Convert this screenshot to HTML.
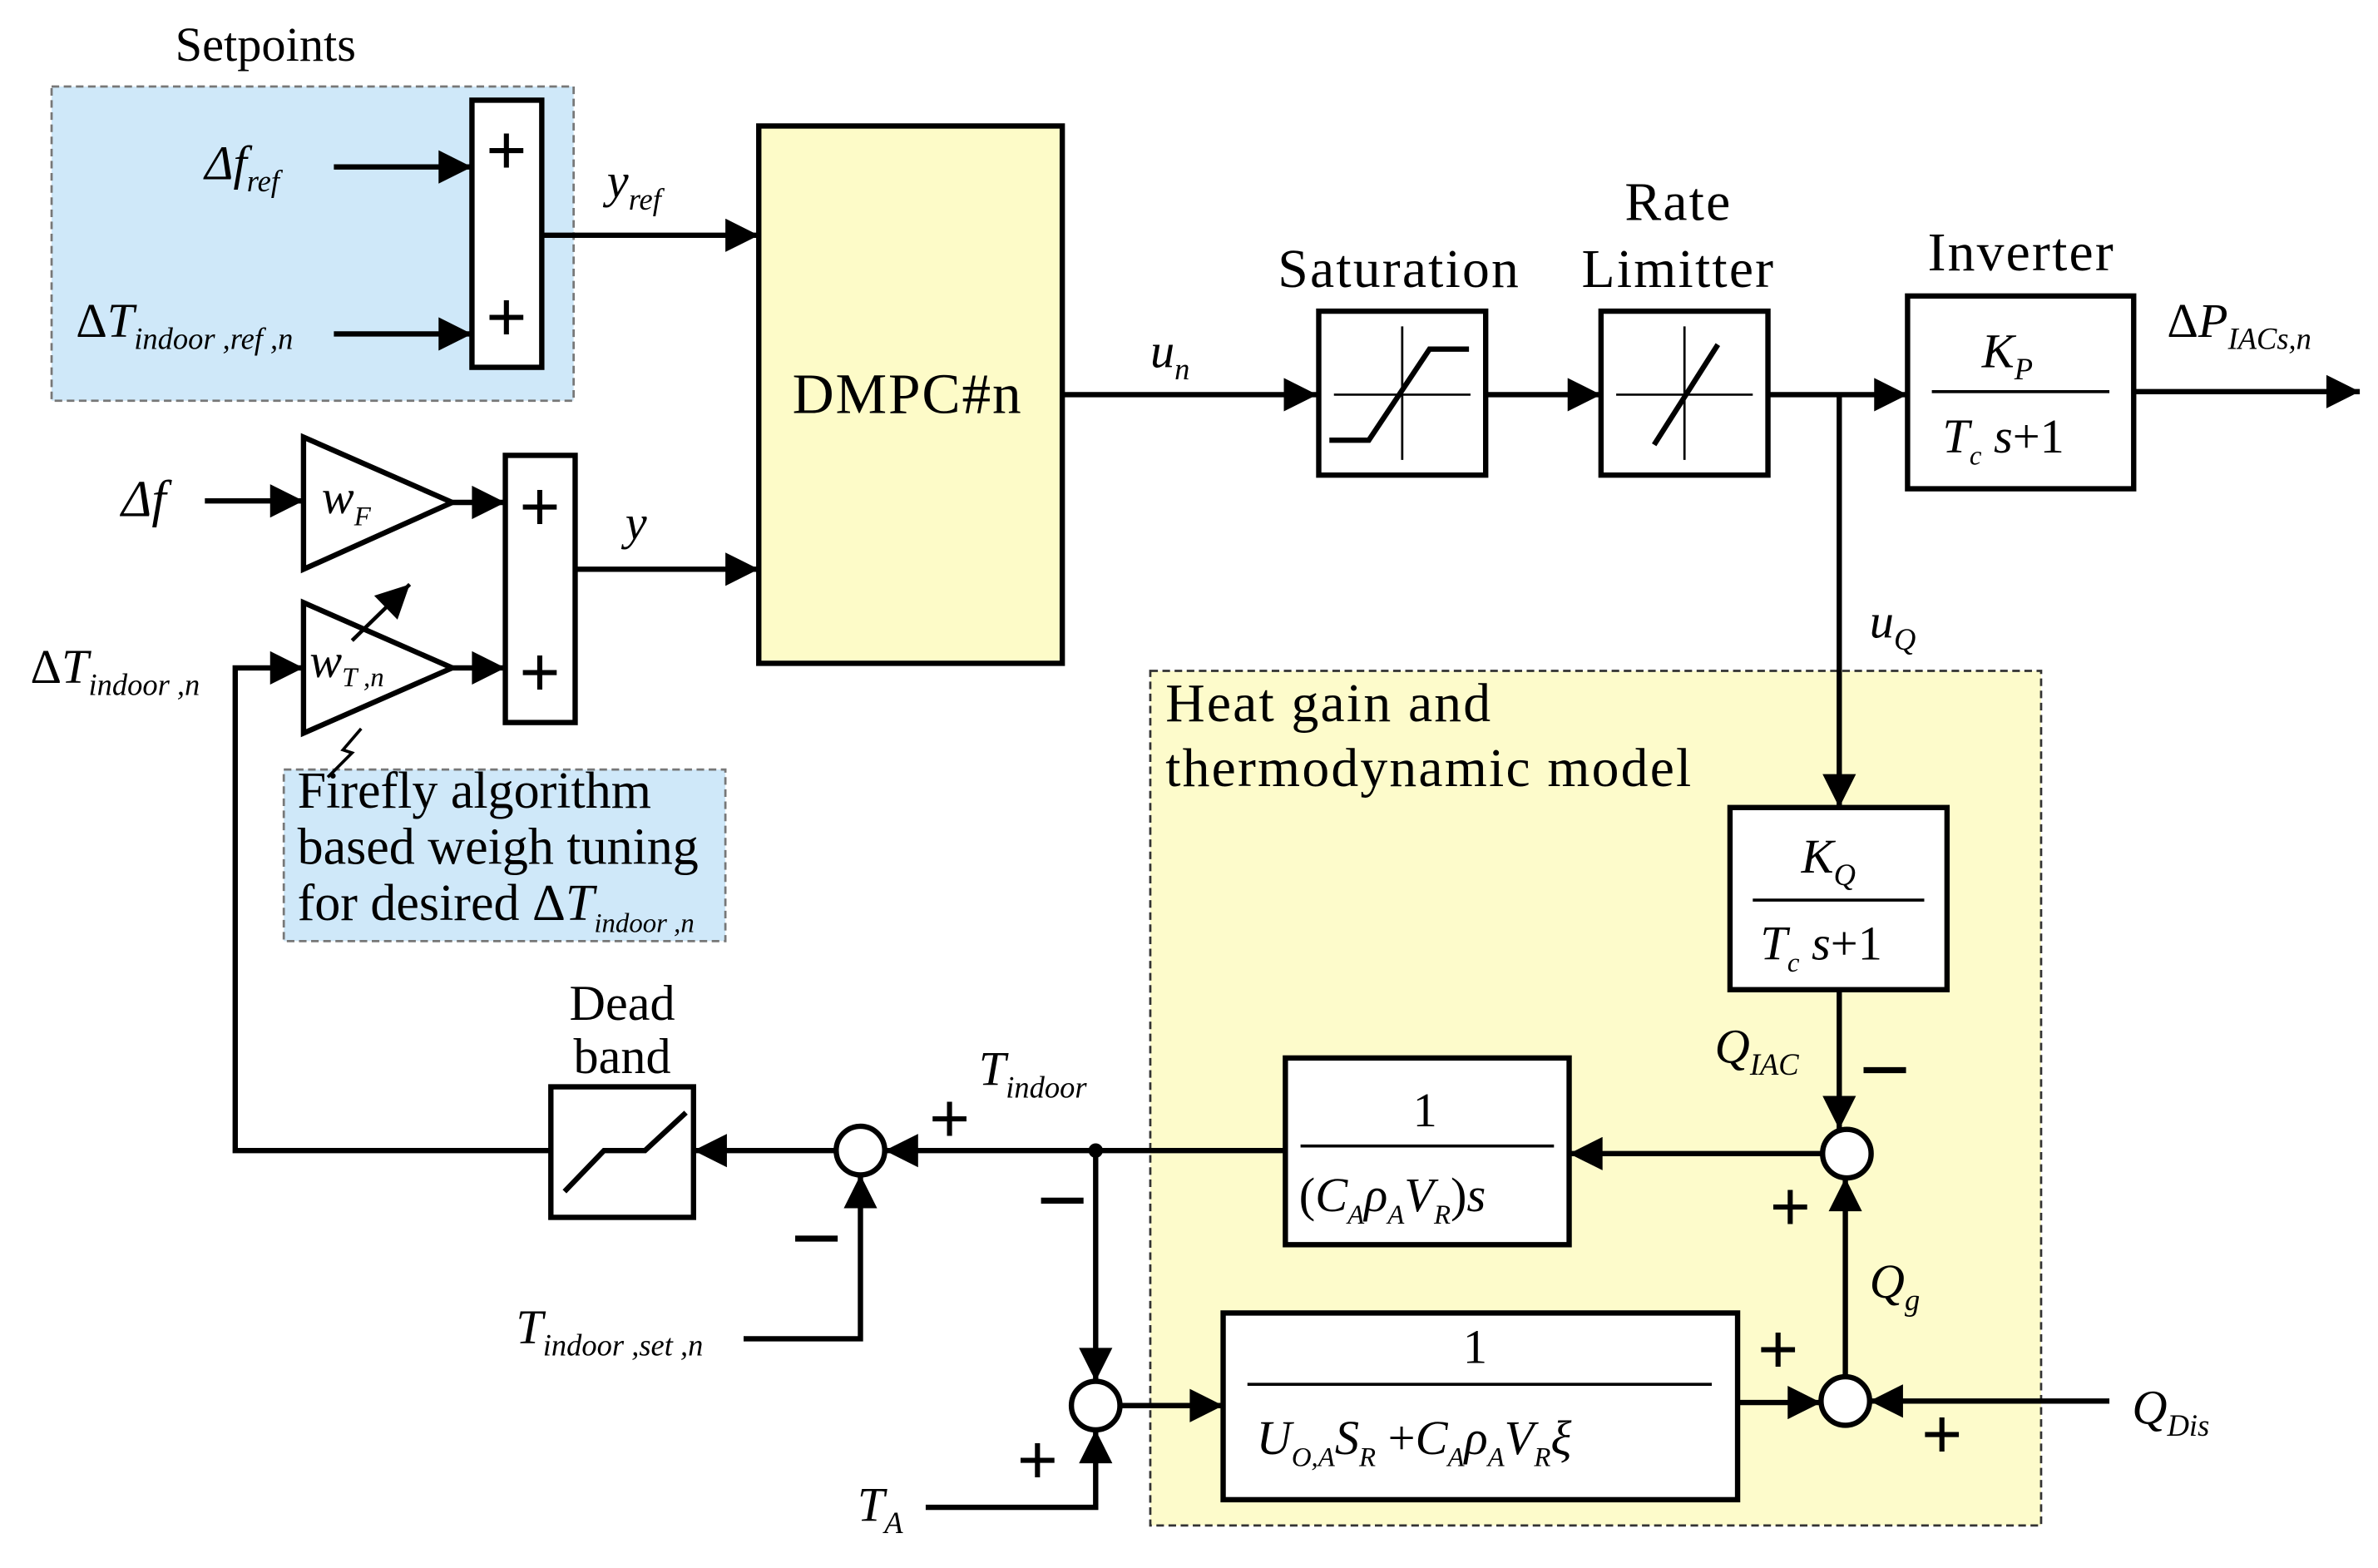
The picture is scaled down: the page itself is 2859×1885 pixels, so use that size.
<!DOCTYPE html>
<html><head><meta charset="utf-8"><style>
html,body{margin:0;padding:0;background:#fff;}
svg{display:block;}
text{font-family:"Liberation Serif",serif;fill:#000;}
.i{font-style:italic;}
.L{font-size:36px;letter-spacing:1.2px;}
</style></head><body>
<svg width="2859" height="1885" viewBox="0 0 1567 1033" preserveAspectRatio="none" xmlns="http://www.w3.org/2000/svg">
<defs>
<marker id="A" viewBox="0 0 10 10" markerWidth="26" markerHeight="22" refX="10" refY="5" orient="auto" markerUnits="userSpaceOnUse">
<path d="M0,0 L10,5 L0,10 z" fill="#000"/></marker>
</defs>
<g stroke="#000" stroke-width="3.5" fill="none">
<rect x="34" y="57" width="344" height="207" fill="#cfe8f9" stroke="#777" stroke-width="1.5" stroke-dasharray="5,3"/>
<rect x="187" y="507" width="291" height="113" fill="#cfe8f9" stroke="#777" stroke-width="1.5" stroke-dasharray="5,3"/>
<rect x="758" y="442" width="587" height="563" fill="#fdfbcb" stroke="#333" stroke-width="1.5" stroke-dasharray="5,3"/>
<rect x="311" y="66" width="46" height="176" fill="#fff"/>
<rect x="333" y="300" width="46" height="176" fill="#fff"/>
<rect x="500" y="83" width="200" height="354" fill="#fdfbc8"/>
<path d="M220,110 H311" marker-end="url(#A)"/>
<path d="M220,220 H311" marker-end="url(#A)"/>
<path d="M357,155 H500" marker-end="url(#A)"/>
<path d="M135,330 H200" marker-end="url(#A)"/>
<polygon points="200,288 200,375 298,331" fill="#fff"/>
<path d="M298,331 H333" marker-end="url(#A)"/>
<polygon points="200,397 200,483 298,440" fill="#fff"/>
<path d="M298,440 H333" marker-end="url(#A)"/>
<path d="M379,375 H500" marker-end="url(#A)"/>
<path d="M232,422 L270,385" stroke-width="2.5" marker-end="url(#A)"/>
<path d="M238,480 L226,494 L232,496 L216,512" stroke-width="2"/>
<path d="M363,758 H155 V440 H200" marker-end="url(#A)"/>
<path d="M700,260 H868" marker-end="url(#A)"/>
<rect x="869" y="205" width="110" height="108" fill="#fff"/>
<path d="M879,260 H969 M924,215 V303" stroke-width="1.5"/>
<path d="M876,290 H902 L942,230 H968"/>
<path d="M979,260 H1055" marker-end="url(#A)"/>
<rect x="1055" y="205" width="110" height="108" fill="#fff"/>
<path d="M1065,260 H1155 M1110,215 V303" stroke-width="1.5"/>
<path d="M1090,293 L1132,227"/>
<path d="M1165,260 H1257" marker-end="url(#A)"/>
<rect x="1257" y="195" width="149" height="127" fill="#fff"/>
<path d="M1273,258 H1390" stroke-width="2"/>
<path d="M1406,258 H1555" marker-end="url(#A)"/>
<path d="M1212,260 V532" marker-end="url(#A)"/>
<rect x="1140" y="532" width="143" height="120" fill="#fff"/>
<path d="M1155,593 H1268" stroke-width="2"/>
<path d="M1212,652 V744" marker-end="url(#A)"/>
<circle cx="1217" cy="760" r="16" fill="#fff"/>
<path d="M1201,760 H1034" marker-end="url(#A)"/>
<rect x="847" y="697" width="187" height="123" fill="#fff"/>
<path d="M857,755 H1024" stroke-width="2"/>
<path d="M847,758 H583" marker-end="url(#A)"/>
<circle cx="567" cy="758" r="16" fill="#fff"/>
<path d="M551,758 H457" marker-end="url(#A)"/>
<rect x="363" y="716" width="94" height="86" fill="#fff"/>
<path d="M372,785 L398,758 H425 L452,733"/>
<path d="M490,882 H567 V774" marker-end="url(#A)"/>
<circle cx="722" cy="758" r="3" fill="#000"/>
<path d="M722,758 V910" marker-end="url(#A)"/>
<circle cx="722" cy="926" r="16" fill="#fff"/>
<path d="M610,993 H722 V942" marker-end="url(#A)"/>
<path d="M738,926 H806" marker-end="url(#A)"/>
<rect x="806" y="865" width="339" height="123" fill="#fff"/>
<path d="M822,912 H1128" stroke-width="2"/>
<path d="M1145,924 H1200" marker-end="url(#A)"/>
<circle cx="1216" cy="923" r="16" fill="#fff"/>
<path d="M1390,923 H1232" marker-end="url(#A)"/>
<path d="M1216,907 V776" marker-end="url(#A)"/>
</g>
<g font-size="30">
<text x="175" y="40" font-size="32" text-anchor="middle">Setpoints</text>
<text x="135" y="118" class="i" font-size="32">Δf<tspan font-size="20" dy="8">ref</tspan></text>
<text x="50" y="222" font-size="32">Δ<tspan class="i">T</tspan><tspan class="i" font-size="20" dy="8">indoor ,ref ,n</tspan></text>
<text x="400" y="130" class="i" font-size="32">y<tspan font-size="20" dy="8">ref</tspan></text>
<text x="80" y="340" class="i" font-size="34">Δf</text>
<text x="212" y="338" class="i" font-size="32">w<tspan font-size="18" dy="8">F</tspan></text>
<text x="204" y="446" class="i" font-size="32">w<tspan font-size="18" dy="6">T ,n</tspan></text>
<text x="412" y="355" class="i" font-size="32">y</text>
<text x="20" y="450" font-size="32">Δ<tspan class="i">T</tspan><tspan class="i" font-size="20" dy="8">indoor ,n</tspan></text>
<text x="196" y="532" font-size="34">Firefly algorithm</text>
<text x="196" y="569" font-size="34">based weigh tuning</text>
<text x="196" y="606" font-size="34">for desired Δ<tspan class="i">T</tspan><tspan class="i" font-size="18" dy="8">indoor ,n</tspan></text>
<text x="598" y="272" font-size="38" text-anchor="middle" letter-spacing="1">DMPC#n</text>
<text x="758" y="242" class="i" font-size="32">u<tspan font-size="20" dy="8">n</tspan></text>
<text x="922" y="189" class="L" text-anchor="middle">Saturation</text>
<text x="1106" y="145" class="L" text-anchor="middle">Rate</text>
<text x="1106" y="189" class="L" text-anchor="middle">Limitter</text>
<text x="1332" y="178" class="L" text-anchor="middle">Inverter</text>
<text x="1306" y="242" class="i" font-size="32">K<tspan font-size="20" dy="8">P</tspan></text>
<text x="1280" y="298" class="i" font-size="32">T<tspan font-size="18" dy="8">c</tspan><tspan dy="-8"> s</tspan><tspan font-style="normal">+1</tspan></text>
<text x="1428" y="222" font-size="32">Δ<tspan class="i">P</tspan><tspan class="i" font-size="20" dy="8">IACs,n</tspan></text>
<text x="1232" y="420" class="i" font-size="32">u<tspan font-size="20" dy="8">Q</tspan></text>
<text x="768" y="475" class="L">Heat gain and</text>
<text x="768" y="518" class="L">thermodynamic model</text>
<text x="1187" y="575" class="i" font-size="32">K<tspan font-size="20" dy="8">Q</tspan></text>
<text x="1160" y="632" class="i" font-size="32">T<tspan font-size="18" dy="8">c</tspan><tspan dy="-8"> s</tspan><tspan font-style="normal">+1</tspan></text>
<text x="1130" y="700" class="i" font-size="32">Q<tspan font-size="20" dy="8">IAC</tspan></text>
<text x="931" y="742" font-size="32">1</text>
<text x="856" y="798" font-size="32">(<tspan class="i">C</tspan><tspan class="i" font-size="18" dy="8">A</tspan><tspan class="i" dy="-8">ρ</tspan><tspan class="i" font-size="18" dy="8">A</tspan><tspan class="i" dy="-8">V</tspan><tspan class="i" font-size="18" dy="8">R</tspan><tspan dy="-8">)</tspan><tspan class="i">s</tspan></text>
<text x="645" y="715" class="i" font-size="32">T<tspan font-size="20" dy="8">indoor</tspan></text>
<text x="410" y="672" font-size="33" text-anchor="middle">Dead</text>
<text x="410" y="707" font-size="33" text-anchor="middle">band</text>
<text x="340" y="885" class="i" font-size="32">T<tspan font-size="20" dy="8">indoor ,set ,n</tspan></text>
<text x="565" y="1002" class="i" font-size="32">T<tspan font-size="20" dy="8">A</tspan></text>
<text x="964" y="898" font-size="32">1</text>
<text x="828" y="958" class="i" font-size="32">U<tspan font-size="18" dy="8">O,A</tspan><tspan dy="-8">S</tspan><tspan font-size="18" dy="8">R</tspan><tspan dy="-8" font-style="normal"> +</tspan>C<tspan font-size="18" dy="8">A</tspan><tspan dy="-8">ρ</tspan><tspan font-size="18" dy="8">A</tspan><tspan dy="-8">V</tspan><tspan font-size="18" dy="8">R</tspan><tspan dy="-8">ξ</tspan></text>
<text x="1232" y="855" class="i" font-size="32">Q<tspan font-size="20" dy="8">g</tspan></text>
<text x="1405" y="938" class="i" font-size="32">Q<tspan font-size="20" dy="8">Dis</tspan></text>
</g>
<g font-size="48" font-weight="bold">
<text x="320" y="115" font-family="Liberation Sans">+</text>
<text x="320" y="225" font-family="Liberation Sans">+</text>
<text x="342" y="350" font-family="Liberation Sans">+</text>
<text x="342" y="459" font-family="Liberation Sans">+</text>
<text x="612" y="753" font-family="Liberation Sans">+</text>
<text x="1166" y="811" font-family="Liberation Sans">+</text>
<text x="1158" y="905" font-family="Liberation Sans">+</text>
<text x="1266" y="961" font-family="Liberation Sans">+</text>
<text x="670" y="978" font-family="Liberation Sans">+</text>
</g>
<g stroke="#000" stroke-width="4">
<path d="M1228,705 H1256 M524,816 H552 M686,791 H714"/>
</g>
</svg>
</body></html>
